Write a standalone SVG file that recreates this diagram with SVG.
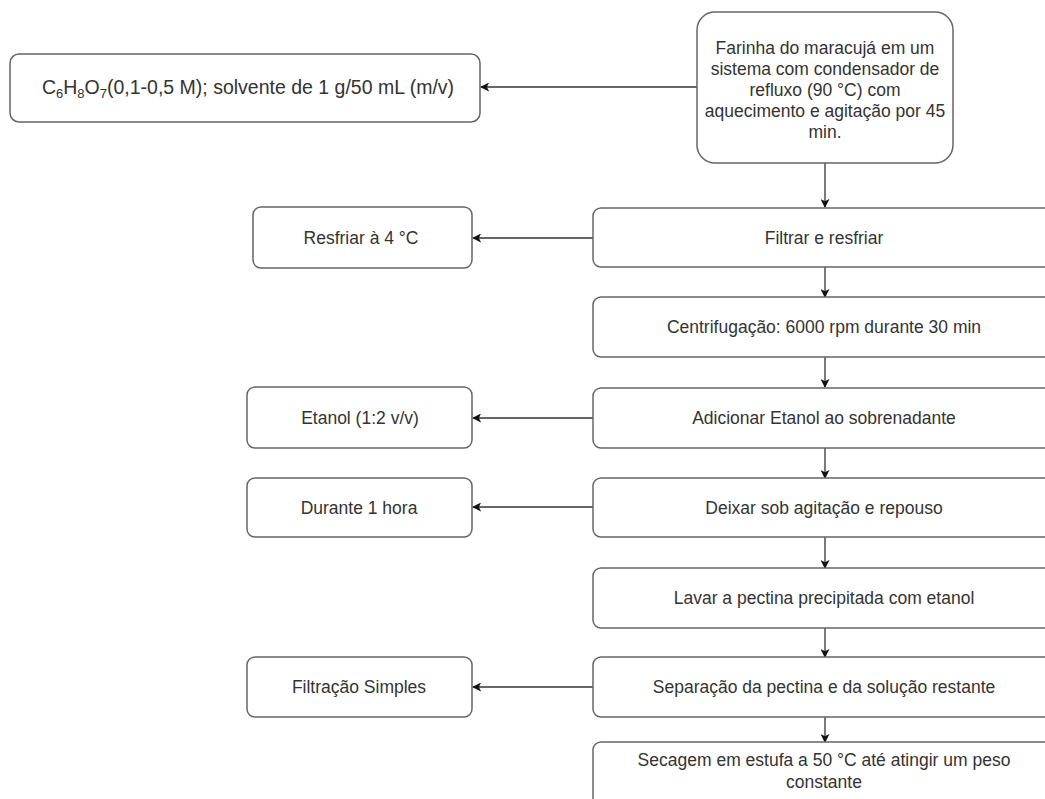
<svg xmlns="http://www.w3.org/2000/svg" width="1045" height="799" viewBox="0 0 1045 799">
<style>
.box{fill:#fff;stroke:#666;stroke-width:1.5}
.t{font-family:"Liberation Sans",Arial,sans-serif;font-size:17.5px;fill:#333;text-anchor:middle}
.big{font-size:19.5px}
.sub{font-size:13px}
.c{fill:none;stroke:#333;stroke-width:1.3}
</style>
<defs>
<marker id="ah" viewBox="0 0 10 10" refX="9" refY="5" markerWidth="9" markerHeight="9" markerUnits="userSpaceOnUse" orient="auto">
<path d="M0,0 L10,5 L0,10 L2.5,5 z" fill="#111"/>
</marker>
</defs>
<rect width="1045" height="799" fill="#fff"/>
<g id="connectors">
<line class="c" x1="697" y1="87" x2="481" y2="87" marker-end="url(#ah)"/>
<line class="c" x1="825" y1="163" x2="825" y2="207" marker-end="url(#ah)"/>
<line class="c" x1="593" y1="238" x2="473" y2="238" marker-end="url(#ah)"/>
<line class="c" x1="825" y1="267" x2="825" y2="297" marker-end="url(#ah)"/>
<line class="c" x1="825" y1="357" x2="825" y2="387" marker-end="url(#ah)"/>
<line class="c" x1="593" y1="418" x2="473" y2="418" marker-end="url(#ah)"/>
<line class="c" x1="825" y1="448" x2="825" y2="478" marker-end="url(#ah)"/>
<line class="c" x1="593" y1="507" x2="473" y2="507" marker-end="url(#ah)"/>
<line class="c" x1="825" y1="537" x2="825" y2="568" marker-end="url(#ah)"/>
<line class="c" x1="825" y1="628" x2="825" y2="657" marker-end="url(#ah)"/>
<line class="c" x1="593" y1="687" x2="473" y2="687" marker-end="url(#ah)"/>
<line class="c" x1="825" y1="717" x2="825" y2="742" marker-end="url(#ah)"/>
</g>
<g id="n-farinha">
<rect class="box" x="697" y="12" width="256" height="151" rx="18"/>
<text class="t" x="825" y="54">Farinha do maracujá em um</text>
<text class="t" x="825" y="75">sistema com condensador de</text>
<text class="t" x="825" y="96">refluxo (90 °C) com</text>
<text class="t" x="825" y="117">aquecimento e agitação por 45</text>
<text class="t" x="825" y="138">min.</text>
</g>
<g id="n-solvente">
<rect class="box" x="10" y="54" width="470" height="68" rx="9"/>
<text class="t big" x="248" y="94">C<tspan class="sub" dy="4">6</tspan><tspan dy="-4">H</tspan><tspan class="sub" dy="4">8</tspan><tspan dy="-4">O</tspan><tspan class="sub" dy="4">7</tspan><tspan dy="-4">(0,1-0,5 M); solvente de 1 g/50 mL (m/v)</tspan></text>
</g>
<g id="n-filtrar">
<rect class="box" x="593" y="208" width="470" height="59" rx="8"/>
<text class="t" x="824" y="244">Filtrar e resfriar</text>
</g>
<g id="n-resfriar">
<rect class="box" x="253" y="207" width="219" height="61" rx="8"/>
<text class="t" x="361" y="244">Resfriar à 4 °C</text>
</g>
<g id="n-centrifugacao">
<rect class="box" x="593" y="297" width="470" height="60" rx="8"/>
<text class="t" x="824" y="333">Centrifugação: 6000 rpm durante 30 min</text>
</g>
<g id="n-adicionar">
<rect class="box" x="593" y="388" width="470" height="60" rx="8"/>
<text class="t" x="824" y="424">Adicionar Etanol ao sobrenadante</text>
</g>
<g id="n-etanol">
<rect class="box" x="247" y="387" width="225" height="61" rx="8"/>
<text class="t" x="360" y="424">Etanol (1:2 v/v)</text>
</g>
<g id="n-deixar">
<rect class="box" x="593" y="478" width="470" height="59" rx="8"/>
<text class="t" x="824" y="514">Deixar sob agitação e repouso</text>
</g>
<g id="n-durante">
<rect class="box" x="247" y="478" width="225" height="59" rx="8"/>
<text class="t" x="359" y="514">Durante 1 hora</text>
</g>
<g id="n-lavar">
<rect class="box" x="593" y="568" width="470" height="60" rx="8"/>
<text class="t" x="824" y="604">Lavar a pectina precipitada com etanol</text>
</g>
<g id="n-separacao">
<rect class="box" x="593" y="657" width="470" height="60" rx="8"/>
<text class="t" x="824" y="693">Separação da pectina e da solução restante</text>
</g>
<g id="n-filtracao">
<rect class="box" x="247" y="657" width="225" height="60" rx="8"/>
<text class="t" x="359" y="693">Filtração Simples</text>
</g>
<g id="n-secagem">
<rect class="box" x="593" y="742" width="470" height="70" rx="8"/>
<text class="t" x="824" y="766">Secagem em estufa a 50 °C até atingir um peso</text>
<text class="t" x="824" y="788">constante</text>
</g>
</svg>
